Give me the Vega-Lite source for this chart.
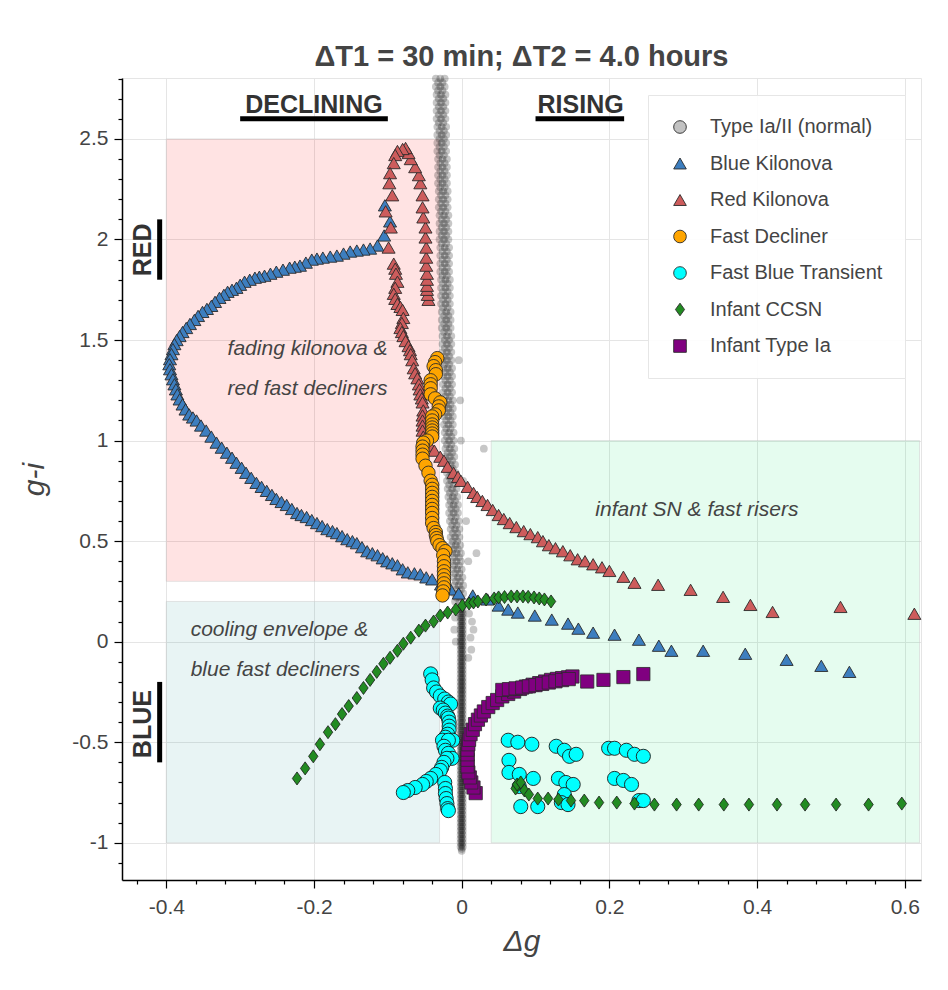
{
  "$schema": "https://vega.github.io/schema/vega-lite/v6.json",
  "width": 799,
  "height": 802,
  "autosize": {"type": "none"},
  "padding": {"left": 122, "top": 78, "right": 27, "bottom": 110},
  "background": "white",
  "title": {"text": "ΔT1 = 30 min; ΔT2 = 4.0 hours", "font": "Liberation Sans", "fontSize": 29, "fontWeight": "bold", "color": "#444444", "offset": 10, "dy": 14, "anchor": "middle"},
  "config": {
    "view": {"stroke": "#e5e5e5", "strokeWidth": 1},
    "font": "Liberation Sans"
  },
  "encoding": {
    "x": {
      "field": "dg", "type": "quantitative",
      "scale": {"domain": [-0.46, 0.622], "nice": false, "zero": false},
      "axis": {
        "values": [-0.44,-0.4,-0.36,-0.32,-0.28,-0.24,-0.2,-0.16,-0.12,-0.08,-0.04,0,0.04,0.08,0.12,0.16,0.2,0.24,0.28,0.32,0.36,0.4,0.44,0.48,0.52,0.56,0.6],
        "title": "Δg", "titleFont": "Liberation Sans", "titleFontStyle": "italic", "titleFontWeight": "normal", "titleFontSize": 30, "titleColor": "#444444", "titlePadding": 9,
        "labelExpr": "abs(datum.value*5 - round(datum.value*5)) < 0.001 ? '' + datum.value : ''",
        "labelFont": "Liberation Sans", "labelFontSize": 21, "labelColor": "#444444", "labelPadding": 8, "labelFlush": false, "labelOverlap": false,
        "domainColor": "#000000", "domainWidth": 1.5, "tickColor": "#000000", "tickWidth": 1.2,
        "tickSize": {"condition": {"test": "abs(datum.value*5 - round(datum.value*5)) < 0.001", "value": 8}, "value": 4},
        "grid": true, "gridColor": "#e5e5e5",
        "gridOpacity": {"condition": {"test": "abs(datum.value*5 - round(datum.value*5)) < 0.001", "value": 1}, "value": 0}
      }
    },
    "y": {
      "field": "gi", "type": "quantitative",
      "scale": {"domain": [-1.185, 2.803], "nice": false, "zero": false},
      "axis": {
        "values": [-1.1,-1,-0.9,-0.8,-0.7,-0.6,-0.5,-0.4,-0.3,-0.2,-0.1,0,0.1,0.2,0.3,0.4,0.5,0.6,0.7,0.8,0.9,1,1.1,1.2,1.3,1.4,1.5,1.6,1.7,1.8,1.9,2,2.1,2.2,2.3,2.4,2.5,2.6,2.7,2.8],
        "title": "g-i", "titleFont": "Liberation Sans", "titleFontStyle": "italic", "titleFontWeight": "normal", "titleFontSize": 30, "titleColor": "#444444", "titlePadding": 22,
        "labelExpr": "abs(datum.value*2 - round(datum.value*2)) < 0.001 ? '' + datum.value : ''",
        "labelFont": "Liberation Sans", "labelFontSize": 21, "labelColor": "#444444", "labelPadding": 6, "labelFlush": false, "labelOverlap": false,
        "domainColor": "#000000", "domainWidth": 1.5, "tickColor": "#000000", "tickWidth": 1.2,
        "tickSize": {"condition": {"test": "abs(datum.value*2 - round(datum.value*2)) < 0.001", "value": 8}, "value": 4},
        "grid": true, "gridColor": "#e5e5e5",
        "gridOpacity": {"condition": {"test": "abs(datum.value*2 - round(datum.value*2)) < 0.001", "value": 1}, "value": 0}
      }
    }
  },
  "layer": [
    {
      "data": {"values": [{"dg": -0.4, "dg2": -0.03, "gi": 0.3, "gi2": 2.5}]},
      "mark": {"type": "rect", "fill": "#ff0000", "fillOpacity": 0.11, "stroke": "#cccccc", "strokeOpacity": 0.5, "strokeWidth": 1},
      "encoding": {"x2": {"field": "dg2"}, "y2": {"field": "gi2"}}
    },
    {
      "data": {"values": [{"dg": -0.4, "dg2": -0.03, "gi": -1, "gi2": 0.2}]},
      "mark": {"type": "rect", "fill": "#008080", "fillOpacity": 0.09, "stroke": "#cccccc", "strokeOpacity": 0.5, "strokeWidth": 1},
      "encoding": {"x2": {"field": "dg2"}, "y2": {"field": "gi2"}}
    },
    {
      "data": {"values": [{"dg": 0.04, "dg2": 0.62, "gi": -1, "gi2": 1}]},
      "mark": {"type": "rect", "fill": "#00dd66", "fillOpacity": 0.1, "stroke": "#cccccc", "strokeOpacity": 0.5, "strokeWidth": 1},
      "encoding": {"x2": {"field": "dg2"}, "y2": {"field": "gi2"}}
    },
    {
      "data": {"values": [
        {"dg":-0.035,"gi":2.8},{"dg":-0.029,"gi":2.8},{"dg":-0.023,"gi":2.8},
        {"dg":-0.035,"gi":2.76},{"dg":-0.029,"gi":2.76},{"dg":-0.023,"gi":2.76},
        {"dg":-0.034,"gi":2.72},{"dg":-0.028,"gi":2.72},{"dg":-0.022,"gi":2.72},
        {"dg":-0.034,"gi":2.68},{"dg":-0.028,"gi":2.68},{"dg":-0.022,"gi":2.68},
        {"dg":-0.034,"gi":2.64},{"dg":-0.028,"gi":2.64},{"dg":-0.022,"gi":2.64},
        {"dg":-0.034,"gi":2.6},{"dg":-0.028,"gi":2.6},{"dg":-0.022,"gi":2.6},
        {"dg":-0.033,"gi":2.56},{"dg":-0.027,"gi":2.56},{"dg":-0.021,"gi":2.56},
        {"dg":-0.033,"gi":2.52},{"dg":-0.027,"gi":2.52},{"dg":-0.021,"gi":2.52},
        {"dg":-0.033,"gi":2.48},{"dg":-0.027,"gi":2.48},{"dg":-0.021,"gi":2.48},
        {"dg":-0.033,"gi":2.44},{"dg":-0.027,"gi":2.44},{"dg":-0.021,"gi":2.44},
        {"dg":-0.032,"gi":2.4},{"dg":-0.026,"gi":2.4},{"dg":-0.02,"gi":2.4},
        {"dg":-0.032,"gi":2.36},{"dg":-0.026,"gi":2.36},{"dg":-0.02,"gi":2.36},
        {"dg":-0.032,"gi":2.32},{"dg":-0.026,"gi":2.32},{"dg":-0.02,"gi":2.32},
        {"dg":-0.032,"gi":2.28},{"dg":-0.026,"gi":2.28},{"dg":-0.02,"gi":2.28},
        {"dg":-0.031,"gi":2.24},{"dg":-0.025,"gi":2.24},{"dg":-0.019,"gi":2.24},
        {"dg":-0.031,"gi":2.2},{"dg":-0.025,"gi":2.2},{"dg":-0.019,"gi":2.2},
        {"dg":-0.031,"gi":2.16},{"dg":-0.025,"gi":2.16},{"dg":-0.019,"gi":2.16},
        {"dg":-0.03,"gi":2.12},{"dg":-0.024,"gi":2.12},{"dg":-0.018,"gi":2.12},
        {"dg":-0.03,"gi":2.08},{"dg":-0.024,"gi":2.08},{"dg":-0.018,"gi":2.08},
        {"dg":-0.03,"gi":2.04},{"dg":-0.024,"gi":2.04},{"dg":-0.018,"gi":2.04},
        {"dg":-0.03,"gi":2.0},{"dg":-0.024,"gi":2.0},{"dg":-0.018,"gi":2.0},
        {"dg":-0.029,"gi":1.96},{"dg":-0.023,"gi":1.96},{"dg":-0.017,"gi":1.96},
        {"dg":-0.029,"gi":1.92},{"dg":-0.023,"gi":1.92},{"dg":-0.017,"gi":1.92},
        {"dg":-0.029,"gi":1.88},{"dg":-0.023,"gi":1.88},{"dg":-0.017,"gi":1.88},
        {"dg":-0.029,"gi":1.84},{"dg":-0.023,"gi":1.84},{"dg":-0.017,"gi":1.84},
        {"dg":-0.028,"gi":1.8},{"dg":-0.022,"gi":1.8},{"dg":-0.016,"gi":1.8},
        {"dg":-0.028,"gi":1.76},{"dg":-0.022,"gi":1.76},{"dg":-0.016,"gi":1.76},
        {"dg":-0.028,"gi":1.72},{"dg":-0.022,"gi":1.72},{"dg":-0.016,"gi":1.72},
        {"dg":-0.028,"gi":1.68},{"dg":-0.022,"gi":1.68},{"dg":-0.016,"gi":1.68},
        {"dg":-0.027,"gi":1.64},{"dg":-0.021,"gi":1.64},{"dg":-0.015,"gi":1.64},
        {"dg":-0.027,"gi":1.6},{"dg":-0.021,"gi":1.6},{"dg":-0.015,"gi":1.6},
        {"dg":-0.027,"gi":1.56},{"dg":-0.021,"gi":1.56},{"dg":-0.015,"gi":1.56},
        {"dg":-0.026,"gi":1.52},{"dg":-0.02,"gi":1.52},{"dg":-0.014,"gi":1.52},
        {"dg":-0.026,"gi":1.48},{"dg":-0.02,"gi":1.48},{"dg":-0.014,"gi":1.48},
        {"dg":-0.026,"gi":1.44},{"dg":-0.02,"gi":1.44},{"dg":-0.014,"gi":1.44},
        {"dg":-0.026,"gi":1.4},{"dg":-0.02,"gi":1.4},{"dg":-0.014,"gi":1.4},
        {"dg":-0.025,"gi":1.36},{"dg":-0.019,"gi":1.36},{"dg":-0.013,"gi":1.36},
        {"dg":-0.025,"gi":1.32},{"dg":-0.019,"gi":1.32},{"dg":-0.013,"gi":1.32},
        {"dg":-0.025,"gi":1.28},{"dg":-0.019,"gi":1.28},{"dg":-0.013,"gi":1.28},
        {"dg":-0.025,"gi":1.24},{"dg":-0.019,"gi":1.24},{"dg":-0.013,"gi":1.24},
        {"dg":-0.024,"gi":1.2},{"dg":-0.018,"gi":1.2},{"dg":-0.012,"gi":1.2},
        {"dg":-0.024,"gi":1.16},{"dg":-0.018,"gi":1.16},{"dg":-0.012,"gi":1.16},
        {"dg":-0.024,"gi":1.12},{"dg":-0.018,"gi":1.12},{"dg":-0.012,"gi":1.12},
        {"dg":-0.024,"gi":1.08},{"dg":-0.018,"gi":1.08},{"dg":-0.012,"gi":1.08},
        {"dg":-0.023,"gi":1.04},{"dg":-0.017,"gi":1.04},{"dg":-0.011,"gi":1.04},
        {"dg":-0.023,"gi":1.0},{"dg":-0.017,"gi":1.0},{"dg":-0.011,"gi":1.0},
        {"dg":-0.022,"gi":0.96},{"dg":-0.016,"gi":0.96},{"dg":-0.01,"gi":0.96},
        {"dg":-0.022,"gi":0.92},{"dg":-0.016,"gi":0.92},{"dg":-0.01,"gi":0.92},
        {"dg":-0.021,"gi":0.88},{"dg":-0.015,"gi":0.88},{"dg":-0.009,"gi":0.88},
        {"dg":-0.02,"gi":0.84},{"dg":-0.014,"gi":0.84},{"dg":-0.008,"gi":0.84},
        {"dg":-0.02,"gi":0.8},{"dg":-0.014,"gi":0.8},{"dg":-0.008,"gi":0.8},
        {"dg":-0.019,"gi":0.76},{"dg":-0.013,"gi":0.76},{"dg":-0.007,"gi":0.76},
        {"dg":-0.018,"gi":0.72},{"dg":-0.012,"gi":0.72},{"dg":-0.006,"gi":0.72},
        {"dg":-0.017,"gi":0.68},{"dg":-0.011,"gi":0.68},{"dg":-0.005,"gi":0.68},
        {"dg":-0.017,"gi":0.64},{"dg":-0.011,"gi":0.64},{"dg":-0.005,"gi":0.64},
        {"dg":-0.016,"gi":0.6},{"dg":-0.01,"gi":0.6},{"dg":-0.004,"gi":0.6},
        {"dg":-0.015,"gi":0.56},{"dg":-0.009,"gi":0.56},{"dg":-0.003,"gi":0.56},
        {"dg":-0.015,"gi":0.52},{"dg":-0.009,"gi":0.52},{"dg":-0.003,"gi":0.52},
        {"dg":-0.014,"gi":0.48},{"dg":-0.008,"gi":0.48},{"dg":-0.002,"gi":0.48},
        {"dg":-0.013,"gi":0.44},{"dg":-0.007,"gi":0.44},{"dg":-0.001,"gi":0.44},
        {"dg":-0.013,"gi":0.4},{"dg":-0.007,"gi":0.4},{"dg":-0.001,"gi":0.4},
        {"dg":-0.012,"gi":0.36},{"dg":-0.006,"gi":0.36},{"dg":0.0,"gi":0.36},
        {"dg":-0.011,"gi":0.32},{"dg":-0.005,"gi":0.32},{"dg":0.001,"gi":0.32},
        {"dg":-0.01,"gi":0.28},{"dg":-0.004,"gi":0.28},{"dg":0.002,"gi":0.28},
        {"dg":-0.01,"gi":0.24},{"dg":-0.004,"gi":0.24},{"dg":0.002,"gi":0.24},
        {"dg":-0.009,"gi":0.2},{"dg":-0.003,"gi":0.2},{"dg":0.003,"gi":0.2},
        {"dg":-0.032,"gi":2.78},{"dg":-0.026,"gi":2.78},{"dg":-0.032,"gi":2.74},{"dg":-0.026,"gi":2.74},
        {"dg":-0.031,"gi":2.7},{"dg":-0.025,"gi":2.7},{"dg":-0.031,"gi":2.66},{"dg":-0.025,"gi":2.66},
        {"dg":-0.031,"gi":2.62},{"dg":-0.025,"gi":2.62},{"dg":-0.031,"gi":2.58},{"dg":-0.025,"gi":2.58},
        {"dg":-0.03,"gi":2.54},{"dg":-0.024,"gi":2.54},{"dg":-0.03,"gi":2.5},{"dg":-0.024,"gi":2.5},
        {"dg":-0.03,"gi":2.46},{"dg":-0.024,"gi":2.46},{"dg":-0.03,"gi":2.42},{"dg":-0.024,"gi":2.42},
        {"dg":-0.029,"gi":2.38},{"dg":-0.023,"gi":2.38},{"dg":-0.029,"gi":2.34},{"dg":-0.023,"gi":2.34},
        {"dg":-0.029,"gi":2.3},{"dg":-0.023,"gi":2.3},{"dg":-0.029,"gi":2.26},{"dg":-0.023,"gi":2.26},
        {"dg":-0.028,"gi":2.22},{"dg":-0.022,"gi":2.22},{"dg":-0.028,"gi":2.18},{"dg":-0.022,"gi":2.18},
        {"dg":-0.028,"gi":2.14},{"dg":-0.022,"gi":2.14},{"dg":-0.027,"gi":2.1},{"dg":-0.021,"gi":2.1},
        {"dg":-0.027,"gi":2.06},{"dg":-0.021,"gi":2.06},{"dg":-0.027,"gi":2.02},{"dg":-0.021,"gi":2.02},
        {"dg":-0.027,"gi":1.98},{"dg":-0.021,"gi":1.98},{"dg":-0.026,"gi":1.94},{"dg":-0.02,"gi":1.94},
        {"dg":-0.026,"gi":1.9},{"dg":-0.02,"gi":1.9},{"dg":-0.026,"gi":1.86},{"dg":-0.02,"gi":1.86},
        {"dg":-0.026,"gi":1.82},{"dg":-0.02,"gi":1.82},{"dg":-0.025,"gi":1.78},{"dg":-0.019,"gi":1.78},
        {"dg":-0.025,"gi":1.74},{"dg":-0.019,"gi":1.74},{"dg":-0.025,"gi":1.7},{"dg":-0.019,"gi":1.7},
        {"dg":-0.025,"gi":1.66},{"dg":-0.019,"gi":1.66},{"dg":-0.024,"gi":1.62},{"dg":-0.018,"gi":1.62},
        {"dg":-0.024,"gi":1.58},{"dg":-0.018,"gi":1.58},{"dg":-0.024,"gi":1.54},{"dg":-0.018,"gi":1.54},
        {"dg":-0.023,"gi":1.5},{"dg":-0.017,"gi":1.5},{"dg":-0.023,"gi":1.46},{"dg":-0.017,"gi":1.46},
        {"dg":-0.023,"gi":1.42},{"dg":-0.017,"gi":1.42},{"dg":-0.023,"gi":1.38},{"dg":-0.017,"gi":1.38},
        {"dg":-0.022,"gi":1.34},{"dg":-0.016,"gi":1.34},{"dg":-0.022,"gi":1.3},{"dg":-0.016,"gi":1.3},
        {"dg":-0.022,"gi":1.26},{"dg":-0.016,"gi":1.26},{"dg":-0.022,"gi":1.22},{"dg":-0.016,"gi":1.22},
        {"dg":-0.021,"gi":1.18},{"dg":-0.015,"gi":1.18},{"dg":-0.021,"gi":1.14},{"dg":-0.015,"gi":1.14},
        {"dg":-0.021,"gi":1.1},{"dg":-0.015,"gi":1.1},{"dg":-0.021,"gi":1.06},{"dg":-0.015,"gi":1.06},
        {"dg":-0.02,"gi":1.02},{"dg":-0.014,"gi":1.02},{"dg":-0.02,"gi":0.98},{"dg":-0.014,"gi":0.98},
        {"dg":-0.019,"gi":0.94},{"dg":-0.013,"gi":0.94},{"dg":-0.019,"gi":0.9},{"dg":-0.013,"gi":0.9},
        {"dg":-0.018,"gi":0.86},{"dg":-0.012,"gi":0.86},{"dg":-0.017,"gi":0.82},{"dg":-0.011,"gi":0.82},
        {"dg":-0.017,"gi":0.78},{"dg":-0.011,"gi":0.78},{"dg":-0.016,"gi":0.74},{"dg":-0.01,"gi":0.74},
        {"dg":-0.015,"gi":0.7},{"dg":-0.009,"gi":0.7},{"dg":-0.014,"gi":0.66},{"dg":-0.008,"gi":0.66},
        {"dg":-0.014,"gi":0.62},{"dg":-0.008,"gi":0.62},{"dg":-0.013,"gi":0.58},{"dg":-0.007,"gi":0.58},
        {"dg":-0.012,"gi":0.54},{"dg":-0.006,"gi":0.54},{"dg":-0.012,"gi":0.5},{"dg":-0.006,"gi":0.5},
        {"dg":-0.011,"gi":0.46},{"dg":-0.005,"gi":0.46},{"dg":-0.01,"gi":0.42},{"dg":-0.004,"gi":0.42},
        {"dg":-0.01,"gi":0.38},{"dg":-0.004,"gi":0.38},{"dg":-0.009,"gi":0.34},{"dg":-0.003,"gi":0.34},
        {"dg":-0.008,"gi":0.3},{"dg":-0.002,"gi":0.3},{"dg":-0.007,"gi":0.26},{"dg":-0.001,"gi":0.26},
        {"dg":-0.007,"gi":0.22},{"dg":-0.001,"gi":0.22},
        {"dg":-0.004,"gi":1.4},{"dg":-0.002,"gi":1.2},{"dg":-0.001,"gi":1.0},{"dg":0.002,"gi":0.8},{"dg":0.006,"gi":0.6},{"dg":0.009,"gi":0.4},
        {"dg":0.03,"gi":0.96},{"dg":0.02,"gi":0.44},
        {"dg":0.01,"gi":0.14},{"dg":0.014,"gi":0.1},{"dg":0.016,"gi":0.06},{"dg":0.012,"gi":0.02},{"dg":0.013,"gi":-0.04},{"dg":0.009,"gi":-0.08},{"dg":-0.009,"gi":0.12},{"dg":-0.01,"gi":0.06},{"dg":-0.008,"gi":0.0},
        {"dg":-0.0015,"gi":0.16},{"dg":0.0015,"gi":0.16},{"dg":-0.0015,"gi":0.14},{"dg":0.0015,"gi":0.14},{"dg":-0.0015,"gi":0.12},{"dg":0.0015,"gi":0.12},{"dg":-0.0015,"gi":0.1},{"dg":0.0015,"gi":0.1},
        {"dg":-0.0015,"gi":0.08},{"dg":0.0015,"gi":0.08},{"dg":-0.0015,"gi":0.06},{"dg":0.0015,"gi":0.06},{"dg":-0.0015,"gi":0.04},{"dg":0.0015,"gi":0.04},{"dg":-0.0015,"gi":0.02},{"dg":0.0015,"gi":0.02},
        {"dg":-0.0015,"gi":0.0},{"dg":0.0015,"gi":0.0},{"dg":-0.0015,"gi":-0.02},{"dg":0.0015,"gi":-0.02},{"dg":-0.0015,"gi":-0.04},{"dg":0.0015,"gi":-0.04},{"dg":-0.0015,"gi":-0.06},{"dg":0.0015,"gi":-0.06},
        {"dg":-0.0015,"gi":-0.08},{"dg":0.0015,"gi":-0.08},{"dg":-0.0015,"gi":-0.1},{"dg":0.0015,"gi":-0.1},{"dg":-0.0015,"gi":-0.12},{"dg":0.0015,"gi":-0.12},{"dg":-0.0015,"gi":-0.14},{"dg":0.0015,"gi":-0.14},
        {"dg":-0.0015,"gi":-0.16},{"dg":0.0015,"gi":-0.16},{"dg":-0.0015,"gi":-0.18},{"dg":0.0015,"gi":-0.18},{"dg":-0.0015,"gi":-0.2},{"dg":0.0015,"gi":-0.2},{"dg":-0.0015,"gi":-0.22},{"dg":0.0015,"gi":-0.22},
        {"dg":-0.0015,"gi":-0.24},{"dg":0.0015,"gi":-0.24},{"dg":-0.0015,"gi":-0.26},{"dg":0.0015,"gi":-0.26},{"dg":-0.0015,"gi":-0.28},{"dg":0.0015,"gi":-0.28},{"dg":-0.0015,"gi":-0.3},{"dg":0.0015,"gi":-0.3},
        {"dg":-0.0015,"gi":-0.32},{"dg":0.0015,"gi":-0.32},{"dg":-0.0015,"gi":-0.34},{"dg":0.0015,"gi":-0.34},{"dg":-0.0015,"gi":-0.36},{"dg":0.0015,"gi":-0.36},{"dg":-0.0015,"gi":-0.38},{"dg":0.0015,"gi":-0.38},
        {"dg":-0.0015,"gi":-0.4},{"dg":0.0015,"gi":-0.4},{"dg":-0.0015,"gi":-0.42},{"dg":0.0015,"gi":-0.42},{"dg":-0.0015,"gi":-0.44},{"dg":0.0015,"gi":-0.44},{"dg":-0.0015,"gi":-0.46},{"dg":0.0015,"gi":-0.46},
        {"dg":-0.0015,"gi":-0.48},{"dg":0.0015,"gi":-0.48},{"dg":-0.0015,"gi":-0.5},{"dg":0.0015,"gi":-0.5},{"dg":-0.0015,"gi":-0.52},{"dg":0.0015,"gi":-0.52},{"dg":-0.0015,"gi":-0.54},{"dg":0.0015,"gi":-0.54},
        {"dg":-0.0015,"gi":-0.56},{"dg":0.0015,"gi":-0.56},{"dg":-0.0015,"gi":-0.58},{"dg":0.0015,"gi":-0.58},{"dg":-0.0015,"gi":-0.6},{"dg":0.0015,"gi":-0.6},{"dg":-0.0015,"gi":-0.62},{"dg":0.0015,"gi":-0.62},
        {"dg":-0.0015,"gi":-0.64},{"dg":0.0015,"gi":-0.64},{"dg":-0.0015,"gi":-0.66},{"dg":0.0015,"gi":-0.66},{"dg":-0.0015,"gi":-0.68},{"dg":0.0015,"gi":-0.68},{"dg":-0.0015,"gi":-0.7},{"dg":0.0015,"gi":-0.7},
        {"dg":-0.0015,"gi":-0.72},{"dg":0.0015,"gi":-0.72},{"dg":-0.0015,"gi":-0.74},{"dg":0.0015,"gi":-0.74},{"dg":-0.0015,"gi":-0.76},{"dg":0.0015,"gi":-0.76},{"dg":-0.0015,"gi":-0.78},{"dg":0.0015,"gi":-0.78},
        {"dg":-0.0015,"gi":-0.8},{"dg":0.0015,"gi":-0.8},{"dg":-0.0015,"gi":-0.82},{"dg":0.0015,"gi":-0.82},{"dg":-0.0015,"gi":-0.84},{"dg":0.0015,"gi":-0.84},{"dg":-0.0015,"gi":-0.86},{"dg":0.0015,"gi":-0.86},
        {"dg":-0.0015,"gi":-0.88},{"dg":0.0015,"gi":-0.88},{"dg":-0.0015,"gi":-0.9},{"dg":0.0015,"gi":-0.9},{"dg":-0.0015,"gi":-0.92},{"dg":0.0015,"gi":-0.92},{"dg":-0.0015,"gi":-0.94},{"dg":0.0015,"gi":-0.94},
        {"dg":-0.0015,"gi":-0.96},{"dg":0.0015,"gi":-0.96},{"dg":-0.0015,"gi":-0.98},{"dg":0.0015,"gi":-0.98},{"dg":-0.0015,"gi":-1.0},{"dg":0.0015,"gi":-1.0},{"dg":-0.0015,"gi":-1.02},{"dg":0.0015,"gi":-1.02},
        {"dg":0.0,"gi":-1.04},
        {"dg":0.0,"gi":0.17},{"dg":0.0,"gi":0.15},{"dg":0.0,"gi":0.13},{"dg":0.0,"gi":0.11},{"dg":0.0,"gi":0.09},{"dg":0.0,"gi":0.07},{"dg":0.0,"gi":0.05},{"dg":0.0,"gi":0.03},{"dg":0.0,"gi":0.01},
        {"dg":0.0,"gi":-0.01},{"dg":0.0,"gi":-0.03},{"dg":0.0,"gi":-0.05},{"dg":0.0,"gi":-0.07},{"dg":0.0,"gi":-0.09},{"dg":0.0,"gi":-0.11},{"dg":0.0,"gi":-0.13},{"dg":0.0,"gi":-0.15},{"dg":0.0,"gi":-0.17},{"dg":0.0,"gi":-0.19},
        {"dg":0.0,"gi":-0.21},{"dg":0.0,"gi":-0.23},{"dg":0.0,"gi":-0.25},{"dg":0.0,"gi":-0.27},{"dg":0.0,"gi":-0.29},{"dg":0.0,"gi":-0.31},{"dg":0.0,"gi":-0.33},{"dg":0.0,"gi":-0.35},{"dg":0.0,"gi":-0.37},{"dg":0.0,"gi":-0.39},
        {"dg":0.0,"gi":-0.41},{"dg":0.0,"gi":-0.43},{"dg":0.0,"gi":-0.45},{"dg":0.0,"gi":-0.47},{"dg":0.0,"gi":-0.49},{"dg":0.0,"gi":-0.51},{"dg":0.0,"gi":-0.53},{"dg":0.0,"gi":-0.55},{"dg":0.0,"gi":-0.57},{"dg":0.0,"gi":-0.59},
        {"dg":0.0,"gi":-0.61},{"dg":0.0,"gi":-0.63},{"dg":0.0,"gi":-0.65},{"dg":0.0,"gi":-0.67},{"dg":0.0,"gi":-0.69},{"dg":0.0,"gi":-0.71},{"dg":0.0,"gi":-0.73},{"dg":0.0,"gi":-0.75},{"dg":0.0,"gi":-0.77},{"dg":0.0,"gi":-0.79},
        {"dg":0.0,"gi":-0.81},{"dg":0.0,"gi":-0.83},{"dg":0.0,"gi":-0.85},{"dg":0.0,"gi":-0.87},{"dg":0.0,"gi":-0.89},{"dg":0.0,"gi":-0.91},{"dg":0.0,"gi":-0.93},{"dg":0.0,"gi":-0.95},{"dg":0.0,"gi":-0.97},{"dg":0.0,"gi":-0.99},
        {"dg":0.0,"gi":-1.01},{"dg":0.0,"gi":-1.03}
      ]},
      "mark": {"type": "point", "filled": true, "shape": "circle", "color": "#000000", "size": 60, "opacity": 0.22, "strokeWidth": 0}
    },
    {
      "data": {"values": [
        {"dg":-0.104,"gi":2.17},{"dg":-0.097,"gi":2.09},{"dg":-0.105,"gi":2.02},{"dg":-0.114,"gi":1.97},{"dg":-0.124,"gi":1.955},{"dg":-0.133,"gi":1.95},{"dg":-0.142,"gi":1.945},{"dg":-0.151,"gi":1.94},{"dg":-0.16,"gi":1.93},{"dg":-0.169,"gi":1.92},{"dg":-0.178,"gi":1.915},{"dg":-0.188,"gi":1.91},{"dg":-0.196,"gi":1.905},{"dg":-0.203,"gi":1.9},{"dg":-0.211,"gi":1.885},{"dg":-0.219,"gi":1.87},{"dg":-0.226,"gi":1.865},{"dg":-0.233,"gi":1.86},{"dg":-0.242,"gi":1.85},{"dg":-0.251,"gi":1.84},{"dg":-0.259,"gi":1.83},{"dg":-0.267,"gi":1.82},{"dg":-0.274,"gi":1.815},{"dg":-0.28,"gi":1.81},{"dg":-0.287,"gi":1.8},{"dg":-0.294,"gi":1.79},{"dg":-0.3,"gi":1.775},{"dg":-0.305,"gi":1.76},{"dg":-0.311,"gi":1.75},{"dg":-0.317,"gi":1.74},{"dg":-0.322,"gi":1.725},{"dg":-0.328,"gi":1.71},{"dg":-0.334,"gi":1.69},{"dg":-0.339,"gi":1.67},{"dg":-0.345,"gi":1.655},{"dg":-0.351,"gi":1.64},{"dg":-0.357,"gi":1.62},{"dg":-0.362,"gi":1.6},{"dg":-0.368,"gi":1.58},{"dg":-0.373,"gi":1.56},{"dg":-0.378,"gi":1.54},{"dg":-0.382,"gi":1.52},{"dg":-0.386,"gi":1.5},{"dg":-0.389,"gi":1.48},{"dg":-0.391,"gi":1.455},{"dg":-0.393,"gi":1.43},{"dg":-0.395,"gi":1.405},{"dg":-0.396,"gi":1.38},{"dg":-0.395,"gi":1.355},{"dg":-0.393,"gi":1.33},{"dg":-0.391,"gi":1.305},{"dg":-0.389,"gi":1.28},{"dg":-0.387,"gi":1.255},{"dg":-0.385,"gi":1.23},{"dg":-0.382,"gi":1.205},{"dg":-0.378,"gi":1.18},{"dg":-0.374,"gi":1.155},{"dg":-0.369,"gi":1.13},{"dg":-0.364,"gi":1.115},{"dg":-0.359,"gi":1.1},{"dg":-0.353,"gi":1.075},{"dg":-0.346,"gi":1.05},{"dg":-0.339,"gi":1.02},{"dg":-0.332,"gi":0.99},{"dg":-0.325,"gi":0.965},{"dg":-0.318,"gi":0.94},{"dg":-0.311,"gi":0.915},{"dg":-0.305,"gi":0.89},{"dg":-0.298,"gi":0.865},{"dg":-0.292,"gi":0.84},{"dg":-0.285,"gi":0.815},{"dg":-0.278,"gi":0.79},{"dg":-0.271,"gi":0.77},{"dg":-0.264,"gi":0.75},{"dg":-0.257,"gi":0.73},{"dg":-0.251,"gi":0.71},{"dg":-0.244,"gi":0.695},{"dg":-0.237,"gi":0.68},{"dg":-0.23,"gi":0.66},{"dg":-0.223,"gi":0.64},{"dg":-0.217,"gi":0.63},{"dg":-0.21,"gi":0.62},{"dg":-0.203,"gi":0.605},{"dg":-0.196,"gi":0.59},{"dg":-0.189,"gi":0.575},{"dg":-0.182,"gi":0.56},{"dg":-0.175,"gi":0.55},{"dg":-0.169,"gi":0.54},{"dg":-0.162,"gi":0.525},{"dg":-0.155,"gi":0.51},{"dg":-0.148,"gi":0.5},{"dg":-0.142,"gi":0.49},{"dg":-0.135,"gi":0.47},{"dg":-0.128,"gi":0.45},{"dg":-0.121,"gi":0.44},{"dg":-0.114,"gi":0.43},{"dg":-0.107,"gi":0.415},{"dg":-0.101,"gi":0.4},{"dg":-0.094,"gi":0.39},{"dg":-0.087,"gi":0.38},{"dg":-0.08,"gi":0.36},{"dg":-0.073,"gi":0.345},{"dg":-0.064,"gi":0.34},{"dg":-0.056,"gi":0.335},{"dg":-0.048,"gi":0.32},{"dg":-0.04,"gi":0.31},{"dg":-0.028,"gi":0.285},{"dg":-0.015,"gi":0.26},{"dg":-0.004,"gi":0.24},{"dg":0.015,"gi":0.23},{"dg":0.035,"gi":0.21},{"dg":0.05,"gi":0.18},{"dg":0.063,"gi":0.16},{"dg":0.076,"gi":0.145},{"dg":0.099,"gi":0.13},{"dg":0.122,"gi":0.11},{"dg":0.144,"gi":0.09},{"dg":0.158,"gi":0.065},{"dg":0.178,"gi":0.045},{"dg":0.207,"gi":0.035},{"dg":0.24,"gi":0.01},{"dg":0.267,"gi":-0.02},{"dg":0.284,"gi":-0.045},{"dg":0.327,"gi":-0.045},{"dg":0.384,"gi":-0.06},{"dg":0.44,"gi":-0.09},{"dg":0.487,"gi":-0.12},{"dg":0.525,"gi":-0.15}
      ]},
      "mark": {"type": "point", "filled": true, "size": 170, "opacity": 1, "stroke": "#2a2a2a", "strokeWidth": 0.9},
      "encoding": {
        "color": {
          "datum": "Blue Kilonova", "type": "nominal",
          "scale": {
            "domain": ["Type Ia/II (normal)", "Blue Kilonova", "Red Kilonova", "Fast Decliner", "Fast Blue Transient", "Infant CCSN", "Infant Type Ia"],
            "range": ["#c2c2c2", "#3d7ebf", "#cd5c5c", "#ffa500", "#00ffff", "#228b22", "#800080"]
          },
          "legend": {
            "title": null, "orient": "none", "legendX": 526, "legendY": 17,
            "fillColor": "rgba(255,255,255,0.92)", "strokeColor": "#e6e6e6", "padding": 22,
            "labelFont": "Liberation Sans", "labelFontSize": 20, "labelColor": "#444444", "labelLimit": 400,
            "rowPadding": 16.5, "symbolSize": 160, "labelOffset": 20,
            "symbolOpacity": 1, "symbolStrokeColor": "#3a3a3a", "symbolStrokeWidth": 0.9
          }
        },
        "shape": {
          "datum": "Blue Kilonova", "type": "nominal",
          "scale": {
            "domain": ["Type Ia/II (normal)", "Blue Kilonova", "Red Kilonova", "Fast Decliner", "Fast Blue Transient", "Infant CCSN", "Infant Type Ia"],
            "range": ["circle", "triangle-up", "triangle-up", "circle", "circle", "M0,-1L0.72,0L0,1L-0.72,0Z", "square"]
          }
        }
      }
    },
    {
      "data": {"values": [
        {"dg":-0.045,"gi":1.7},{"dg":-0.046,"gi":1.725},{"dg":-0.047,"gi":1.75},{"dg":-0.047,"gi":1.77},{"dg":-0.047,"gi":1.8},{"dg":-0.047,"gi":1.83},{"dg":-0.048,"gi":1.87},{"dg":-0.048,"gi":1.91},{"dg":-0.048,"gi":1.96},{"dg":-0.049,"gi":2.01},{"dg":-0.049,"gi":2.06},{"dg":-0.052,"gi":2.11},{"dg":-0.053,"gi":2.16},{"dg":-0.053,"gi":2.22},{"dg":-0.056,"gi":2.28},{"dg":-0.058,"gi":2.32},{"dg":-0.063,"gi":2.36},{"dg":-0.069,"gi":2.4},{"dg":-0.072,"gi":2.43},{"dg":-0.076,"gi":2.455},{"dg":-0.08,"gi":2.45},{"dg":-0.087,"gi":2.44},{"dg":-0.09,"gi":2.42},{"dg":-0.092,"gi":2.38},{"dg":-0.097,"gi":2.33},{"dg":-0.098,"gi":2.28},{"dg":-0.094,"gi":2.22},{"dg":-0.103,"gi":2.14},{"dg":-0.096,"gi":2.06},{"dg":-0.099,"gi":1.96},
        {"dg":-0.092,"gi":1.88},{"dg":-0.09,"gi":1.855},{"dg":-0.089,"gi":1.83},{"dg":-0.087,"gi":1.79},{"dg":-0.09,"gi":1.76},{"dg":-0.092,"gi":1.73},{"dg":-0.09,"gi":1.705},{"dg":-0.087,"gi":1.68},{"dg":-0.083,"gi":1.665},{"dg":-0.08,"gi":1.65},{"dg":-0.079,"gi":1.61},{"dg":-0.081,"gi":1.585},{"dg":-0.083,"gi":1.56},{"dg":-0.081,"gi":1.54},{"dg":-0.079,"gi":1.52},{"dg":-0.076,"gi":1.495},{"dg":-0.072,"gi":1.47},{"dg":-0.07,"gi":1.45},{"dg":-0.069,"gi":1.43},{"dg":-0.067,"gi":1.4},{"dg":-0.065,"gi":1.36},{"dg":-0.063,"gi":1.335},{"dg":-0.06,"gi":1.31},{"dg":-0.058,"gi":1.28},{"dg":-0.057,"gi":1.255},{"dg":-0.056,"gi":1.23},{"dg":-0.054,"gi":1.21},{"dg":-0.053,"gi":1.19},{"dg":-0.052,"gi":1.15},{"dg":-0.053,"gi":1.125},{"dg":-0.053,"gi":1.1},{"dg":-0.053,"gi":1.075},{"dg":-0.053,"gi":1.05},{"dg":-0.052,"gi":1.02},{"dg":-0.048,"gi":1.0},{"dg":-0.043,"gi":0.975},{"dg":-0.037,"gi":0.95},{"dg":-0.029,"gi":0.92},{"dg":-0.024,"gi":0.9},{"dg":-0.019,"gi":0.87},{"dg":-0.011,"gi":0.84},{"dg":-0.005,"gi":0.82},{"dg":-0.001,"gi":0.8},{"dg":0.008,"gi":0.77},{"dg":0.016,"gi":0.74},{"dg":0.021,"gi":0.72},{"dg":0.028,"gi":0.7},{"dg":0.035,"gi":0.68},{"dg":0.042,"gi":0.655},{"dg":0.05,"gi":0.63},{"dg":0.057,"gi":0.61},{"dg":0.065,"gi":0.59},{"dg":0.074,"gi":0.57},{"dg":0.084,"gi":0.55},{"dg":0.093,"gi":0.535},{"dg":0.103,"gi":0.52},{"dg":0.11,"gi":0.5},{"dg":0.118,"gi":0.48},{"dg":0.127,"gi":0.465},{"dg":0.137,"gi":0.45},{"dg":0.147,"gi":0.43},{"dg":0.157,"gi":0.41},{"dg":0.167,"gi":0.4},{"dg":0.178,"gi":0.385},{"dg":0.19,"gi":0.37},{"dg":0.2,"gi":0.352},{"dg":0.219,"gi":0.323},{"dg":0.234,"gi":0.293},{"dg":0.266,"gi":0.283},{"dg":0.31,"gi":0.258},{"dg":0.354,"gi":0.223},{"dg":0.391,"gi":0.183},{"dg":0.421,"gi":0.148},{"dg":0.513,"gi":0.173},{"dg":0.613,"gi":0.139}
      ]},
      "mark": {"type": "point", "filled": true, "size": 170, "opacity": 1, "stroke": "#2a2a2a", "strokeWidth": 0.9},
      "encoding": {"color": {"datum": "Red Kilonova", "type": "nominal"}, "shape": {"datum": "Red Kilonova", "type": "nominal"}}
    },
    {
      "data": {"values": [
        {"dg":-0.033,"gi":1.41},{"dg":-0.036,"gi":1.39},{"dg":-0.038,"gi":1.37},{"dg":-0.035,"gi":1.35},{"dg":-0.035,"gi":1.33},{"dg":-0.042,"gi":1.3},{"dg":-0.042,"gi":1.28},{"dg":-0.042,"gi":1.26},{"dg":-0.042,"gi":1.23},{"dg":-0.036,"gi":1.21},{"dg":-0.029,"gi":1.19},{"dg":-0.031,"gi":1.17},{"dg":-0.031,"gi":1.15},{"dg":-0.036,"gi":1.13},{"dg":-0.04,"gi":1.12},{"dg":-0.04,"gi":1.1},{"dg":-0.04,"gi":1.08},{"dg":-0.04,"gi":1.065},{"dg":-0.04,"gi":1.05},{"dg":-0.04,"gi":1.035},{"dg":-0.04,"gi":1.02},{"dg":-0.047,"gi":1.0},{"dg":-0.052,"gi":0.99},{"dg":-0.053,"gi":0.97},{"dg":-0.053,"gi":0.95},{"dg":-0.053,"gi":0.93},{"dg":-0.053,"gi":0.91},{"dg":-0.049,"gi":0.875},{"dg":-0.045,"gi":0.84},{"dg":-0.042,"gi":0.8},{"dg":-0.04,"gi":0.78},{"dg":-0.04,"gi":0.76},{"dg":-0.04,"gi":0.74},{"dg":-0.04,"gi":0.72},{"dg":-0.04,"gi":0.7},{"dg":-0.04,"gi":0.68},{"dg":-0.04,"gi":0.66},{"dg":-0.04,"gi":0.64},{"dg":-0.04,"gi":0.615},{"dg":-0.04,"gi":0.59},{"dg":-0.038,"gi":0.565},{"dg":-0.035,"gi":0.545},{"dg":-0.035,"gi":0.53},{"dg":-0.034,"gi":0.515},{"dg":-0.033,"gi":0.5},{"dg":-0.03,"gi":0.48},{"dg":-0.026,"gi":0.465},{"dg":-0.022,"gi":0.45},{"dg":-0.025,"gi":0.43},{"dg":-0.024,"gi":0.4},{"dg":-0.024,"gi":0.375},{"dg":-0.024,"gi":0.35},{"dg":-0.024,"gi":0.33},{"dg":-0.024,"gi":0.31},{"dg":-0.024,"gi":0.29},{"dg":-0.024,"gi":0.27},{"dg":-0.025,"gi":0.25},{"dg":-0.026,"gi":0.23}
      ]},
      "mark": {"type": "point", "filled": true, "size": 180, "opacity": 1, "stroke": "#2a2a2a", "strokeWidth": 0.9},
      "encoding": {"color": {"datum": "Fast Decliner", "type": "nominal"}, "shape": {"datum": "Fast Decliner", "type": "nominal"}}
    },
    {
      "data": {"values": [
        {"dg":-0.042,"gi":-0.16},{"dg":-0.04,"gi":-0.19},{"dg":-0.038,"gi":-0.23},{"dg":-0.034,"gi":-0.25},{"dg":-0.029,"gi":-0.27},{"dg":-0.023,"gi":-0.285},{"dg":-0.018,"gi":-0.3},{"dg":-0.015,"gi":-0.31},{"dg":-0.029,"gi":-0.33},{"dg":-0.025,"gi":-0.34},{"dg":-0.022,"gi":-0.355},{"dg":-0.019,"gi":-0.37},{"dg":-0.018,"gi":-0.38},{"dg":-0.017,"gi":-0.4},{"dg":-0.017,"gi":-0.42},{"dg":-0.017,"gi":-0.44},{"dg":-0.019,"gi":-0.46},{"dg":-0.022,"gi":-0.475},{"dg":-0.026,"gi":-0.49},{"dg":-0.012,"gi":-0.49},{"dg":-0.018,"gi":-0.49},{"dg":-0.024,"gi":-0.52},{"dg":-0.022,"gi":-0.54},{"dg":-0.018,"gi":-0.555},{"dg":-0.013,"gi":-0.58},{"dg":-0.02,"gi":-0.58},{"dg":-0.024,"gi":-0.6},{"dg":-0.027,"gi":-0.625},{"dg":-0.029,"gi":-0.64},{"dg":-0.035,"gi":-0.66},{"dg":-0.042,"gi":-0.68},{"dg":-0.048,"gi":-0.695},{"dg":-0.053,"gi":-0.71},{"dg":-0.063,"gi":-0.725},{"dg":-0.073,"gi":-0.74},{"dg":-0.079,"gi":-0.75},{"dg":-0.023,"gi":-0.7},{"dg":-0.022,"gi":-0.73},{"dg":-0.022,"gi":-0.755},{"dg":-0.021,"gi":-0.78},{"dg":-0.02,"gi":-0.805},{"dg":-0.019,"gi":-0.83},{"dg":-0.018,"gi":-0.84},
        {"dg":0.063,"gi":-0.49},{"dg":0.076,"gi":-0.5},{"dg":0.095,"gi":-0.51},{"dg":0.128,"gi":-0.52},{"dg":0.139,"gi":-0.54},{"dg":0.146,"gi":-0.57},{"dg":0.155,"gi":-0.56},{"dg":0.199,"gi":-0.53},{"dg":0.207,"gi":-0.53},{"dg":0.223,"gi":-0.54},{"dg":0.234,"gi":-0.56},{"dg":0.246,"gi":-0.57},{"dg":0.064,"gi":-0.59},{"dg":0.064,"gi":-0.65},{"dg":0.078,"gi":-0.66},{"dg":0.097,"gi":-0.68},{"dg":0.131,"gi":-0.68},{"dg":0.141,"gi":-0.7},{"dg":0.151,"gi":-0.71},{"dg":0.207,"gi":-0.68},{"dg":0.219,"gi":-0.69},{"dg":0.23,"gi":-0.71},{"dg":0.078,"gi":-0.72},{"dg":0.139,"gi":-0.76},{"dg":0.135,"gi":-0.8},{"dg":0.08,"gi":-0.82},{"dg":0.103,"gi":-0.82},{"dg":0.144,"gi":-0.81},{"dg":0.24,"gi":-0.79},{"dg":0.246,"gi":-0.79}
      ]},
      "mark": {"type": "point", "filled": true, "size": 200, "opacity": 1, "stroke": "#1a1a1a", "strokeWidth": 0.9},
      "encoding": {"color": {"datum": "Fast Blue Transient", "type": "nominal"}, "shape": {"datum": "Fast Blue Transient", "type": "nominal"}}
    },
    {
      "data": {"values": [
        {"dg":-0.223,"gi":-0.68},{"dg":-0.212,"gi":-0.63},{"dg":-0.201,"gi":-0.57},{"dg":-0.192,"gi":-0.51},{"dg":-0.181,"gi":-0.45},{"dg":-0.171,"gi":-0.41},{"dg":-0.162,"gi":-0.36},{"dg":-0.153,"gi":-0.32},{"dg":-0.142,"gi":-0.28},{"dg":-0.133,"gi":-0.23},{"dg":-0.124,"gi":-0.19},{"dg":-0.115,"gi":-0.15},{"dg":-0.106,"gi":-0.11},{"dg":-0.097,"gi":-0.08},{"dg":-0.087,"gi":-0.045},{"dg":-0.079,"gi":-0.01},{"dg":-0.069,"gi":0.02},{"dg":-0.058,"gi":0.055},{"dg":-0.049,"gi":0.08},{"dg":-0.038,"gi":0.1},{"dg":-0.029,"gi":0.13},{"dg":-0.019,"gi":0.145},{"dg":-0.008,"gi":0.16},{"dg":0.001,"gi":0.18},{"dg":0.01,"gi":0.19},{"dg":0.016,"gi":0.195},{"dg":0.022,"gi":0.2},{"dg":0.033,"gi":0.21},{"dg":0.044,"gi":0.215},{"dg":0.05,"gi":0.22},{"dg":0.058,"gi":0.222},{"dg":0.067,"gi":0.225},{"dg":0.075,"gi":0.225},{"dg":0.083,"gi":0.225},{"dg":0.09,"gi":0.223},{"dg":0.098,"gi":0.22},{"dg":0.105,"gi":0.215},{"dg":0.112,"gi":0.21},{"dg":0.121,"gi":0.2},
        {"dg":0.073,"gi":-0.73},{"dg":0.075,"gi":-0.71},{"dg":0.08,"gi":-0.7},{"dg":0.085,"gi":-0.74},{"dg":0.091,"gi":-0.76},{"dg":0.103,"gi":-0.78},{"dg":0.117,"gi":-0.78},{"dg":0.131,"gi":-0.785},{"dg":0.148,"gi":-0.79},{"dg":0.166,"gi":-0.79},{"dg":0.186,"gi":-0.8},{"dg":0.21,"gi":-0.8},{"dg":0.234,"gi":-0.805},{"dg":0.261,"gi":-0.81},{"dg":0.291,"gi":-0.81},{"dg":0.321,"gi":-0.81},{"dg":0.355,"gi":-0.81},{"dg":0.389,"gi":-0.81},{"dg":0.427,"gi":-0.81},{"dg":0.465,"gi":-0.81},{"dg":0.507,"gi":-0.81},{"dg":0.551,"gi":-0.81},{"dg":0.596,"gi":-0.805}
      ]},
      "mark": {"type": "point", "filled": true, "size": 170, "opacity": 1, "stroke": "#1a1a1a", "strokeWidth": 0.8},
      "encoding": {"color": {"datum": "Infant CCSN", "type": "nominal"}, "shape": {"datum": "Infant CCSN", "type": "nominal"}}
    },
    {
      "data": {"values": [
        {"dg":0.019,"gi":-0.753},{"dg":0.016,"gi":-0.725},{"dg":0.013,"gi":-0.7},{"dg":0.011,"gi":-0.675},{"dg":0.009,"gi":-0.65},{"dg":0.008,"gi":-0.62},{"dg":0.008,"gi":-0.587},{"dg":0.008,"gi":-0.56},{"dg":0.008,"gi":-0.537},{"dg":0.009,"gi":-0.51},{"dg":0.01,"gi":-0.488},{"dg":0.012,"gi":-0.46},{"dg":0.015,"gi":-0.438},{"dg":0.018,"gi":-0.41},{"dg":0.022,"gi":-0.388},{"dg":0.026,"gi":-0.367},{"dg":0.03,"gi":-0.347},{"dg":0.036,"gi":-0.325},{"dg":0.042,"gi":-0.305},{"dg":0.048,"gi":-0.29},{"dg":0.055,"gi":-0.272},{"dg":0.063,"gi":-0.26},{"dg":0.071,"gi":-0.248},{"dg":0.079,"gi":-0.235},{"dg":0.087,"gi":-0.223},{"dg":0.096,"gi":-0.214},{"dg":0.105,"gi":-0.206},{"dg":0.113,"gi":-0.198},{"dg":0.121,"gi":-0.19},{"dg":0.129,"gi":-0.185},{"dg":0.136,"gi":-0.181},{"dg":0.144,"gi":-0.177},{"dg":0.15,"gi":-0.173},
        {"dg":0.055,"gi":-0.24},{"dg":0.064,"gi":-0.236},{"dg":0.073,"gi":-0.232},{"dg":0.082,"gi":-0.228},{"dg":0.091,"gi":-0.222},{"dg":0.1,"gi":-0.216},{"dg":0.109,"gi":-0.21},{"dg":0.118,"gi":-0.203},{"dg":0.127,"gi":-0.197},{"dg":0.136,"gi":-0.191},{"dg":0.145,"gi":-0.186},
        {"dg":0.17,"gi":-0.198},{"dg":0.192,"gi":-0.19},{"dg":0.219,"gi":-0.176},{"dg":0.246,"gi":-0.161}
      ]},
      "mark": {"type": "point", "filled": true, "size": 175, "opacity": 1, "stroke": "#2a2a2a", "strokeWidth": 0.8},
      "encoding": {"color": {"datum": "Infant Type Ia", "type": "nominal"}, "shape": {"datum": "Infant Type Ia", "type": "nominal"}}
    },
    {
      "data": {"values": [
        {"dg": -0.317, "gi": 1.455, "label": "fading kilonova &"},
        {"dg": -0.317, "gi": 1.258, "label": "red fast decliners"},
        {"dg": -0.367, "gi": 0.056, "label": "cooling envelope &"},
        {"dg": -0.367, "gi": -0.143, "label": "blue fast decliners"},
        {"dg": 0.181, "gi": 0.656, "label": "infant SN & fast risers"}
      ]},
      "mark": {"type": "text", "align": "left", "baseline": "middle", "font": "Liberation Sans", "fontSize": 21, "fontStyle": "italic", "color": "#444444"},
      "encoding": {"text": {"field": "label"}}
    },
    {
      "data": {"values": [
        {"dg": -0.2, "gi": 2.669, "label": "DECLINING"},
        {"dg": 0.161, "gi": 2.669, "label": "RISING"}
      ]},
      "mark": {"type": "text", "align": "center", "baseline": "middle", "font": "Liberation Sans", "fontSize": 25, "fontWeight": "bold", "color": "#333333"},
      "encoding": {"text": {"field": "label"}}
    },
    {
      "data": {"values": [
        {"dg": -0.431, "gi": 1.948, "label": "RED"},
        {"dg": -0.431, "gi": -0.41, "label": "BLUE"}
      ]},
      "mark": {"type": "text", "align": "center", "baseline": "middle", "angle": 270, "font": "Liberation Sans", "fontSize": 25, "fontWeight": "bold", "color": "#333333"},
      "encoding": {"text": {"field": "label"}}
    },
    {
      "data": {"values": [
        {"dg": -0.3, "dg2": -0.1, "gi": 2.6, "gi2": 2.6},
        {"dg": 0.1, "dg2": 0.22, "gi": 2.6, "gi2": 2.6},
        {"dg": -0.409, "dg2": -0.409, "gi": 1.8, "gi2": 2.1},
        {"dg": -0.409, "dg2": -0.409, "gi": -0.6, "gi2": -0.2}
      ]},
      "mark": {"type": "rule", "color": "#000000", "strokeWidth": 5},
      "encoding": {"x2": {"field": "dg2"}, "y2": {"field": "gi2"}}
    }
  ]
}
